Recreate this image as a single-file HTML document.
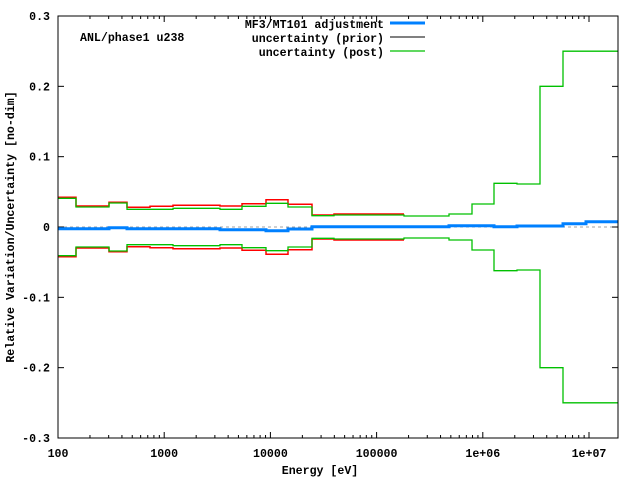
<!DOCTYPE html>
<html><head><meta charset="utf-8"><style>
body{margin:0;background:#fff}
svg text{font-family:"Liberation Mono","DejaVu Sans Mono",monospace;font-weight:bold;font-size:11.6px;fill:#000}
</style></head><body>
<svg id="s" width="640" height="480" xmlns="http://www.w3.org/2000/svg">
<rect width="640" height="480" fill="#fff"/>
<line x1="58" y1="227" x2="618" y2="227" stroke="#a0a0a0" stroke-dasharray="3,3"/>
<g id="ticks" stroke="#000"></g>
<g id="series" fill="none"></g>
<rect x="58" y="16" width="560" height="422" fill="none" stroke="#000"/>
<text x="80" y="41">ANL/phase1 u238</text>
<text x="384" y="28" text-anchor="end">MF3/MT101 adjustment</text>
<text x="384" y="42" text-anchor="end">uncertainty (prior)</text>
<text x="384" y="56" text-anchor="end">uncertainty (post)</text>
<line x1="390" y1="23" x2="425" y2="23" stroke="#0080ff" stroke-width="3"/>
<line x1="390" y1="37" x2="425" y2="37" stroke="#000" stroke-width="1"/>
<line x1="390" y1="51" x2="425" y2="51" stroke="#00c000" stroke-width="1.3"/>
<text x="320" y="474" text-anchor="middle">Energy [eV]</text>
<text transform="translate(14,227) rotate(-90)" text-anchor="middle">Relative Variation/Uncertainty [no-dim]</text>
<g id="labels"></g>
</svg>
<script>
var NS="http://www.w3.org/2000/svg";
function el(p,t,a,txt){var e=document.createElementNS(NS,t);for(var k in a)e.setAttribute(k,a[k]);if(txt!=null)e.textContent=txt;document.getElementById(p).appendChild(e);}
var X0=58,D=106.2;
var xl=["100","1000","10000","100000","1e+06","1e+07"];
for(var d=0;d<6;d++){var x=X0+D*d;
 el("ticks","line",{x1:x,y1:438,x2:x,y2:432});el("ticks","line",{x1:x,y1:16,x2:x,y2:22});
 el("labels","text",{x:x,y:457,"text-anchor":"middle"},xl[d]);
 for(var m=2;m<10;m++){var xm=x+D*Math.log10(m);if(xm>618)break;
  el("ticks","line",{x1:xm,y1:438,x2:xm,y2:435});el("ticks","line",{x1:xm,y1:16,x2:xm,y2:19});}}
var yl=["0.3","0.2","0.1","0","-0.1","-0.2","-0.3"];
for(var i=0;i<7;i++){var y=16+i*422/6;
 el("ticks","line",{x1:58,y1:y,x2:64,y2:y});el("ticks","line",{x1:618,y1:y,x2:612,y2:y});
 el("labels","text",{x:50,y:y+4,"text-anchor":"end"},yl[i]);}
var E=[58,76,109,127,150,173,220,242,266,288,312,334,404,449,472,494,517,540,563,586,618];
function path(edges,ys,mir){var d="";for(var i=0;i<ys.length;i++){var y=mir?454-ys[i]:ys[i];
 d+=(i==0?"M":"L")+edges[i]+","+y+"L"+edges[i+1]+","+y;}return d;}
var red=[197.3,206,202.3,207.3,206.3,205.3,206,203.7,199.7,204.3,215,214];
var grn=[198.3,207,203,209.3,209.3,208.3,209.3,206.3,203.3,207,215.7,215,216,214,204,183.3,184,86.3,51.2,51.2];
var blu=[228.7,228.7,227.7,228.7,228.7,228.7,229.7,229.7,230.7,229,226.7,226.7,226.7,225.7,225.7,226.7,226,226,223.7,221.7];
[false,true].forEach(function(m){
 el("series","path",{d:path(E,red,m),stroke:"#ff0000","stroke-width":1.5});
 el("series","path",{d:path(E,grn,m),stroke:"#00c000","stroke-width":1.3});});
el("series","path",{d:path(E,blu,false),stroke:"#0080ff","stroke-width":3});
</script>
</body></html>
